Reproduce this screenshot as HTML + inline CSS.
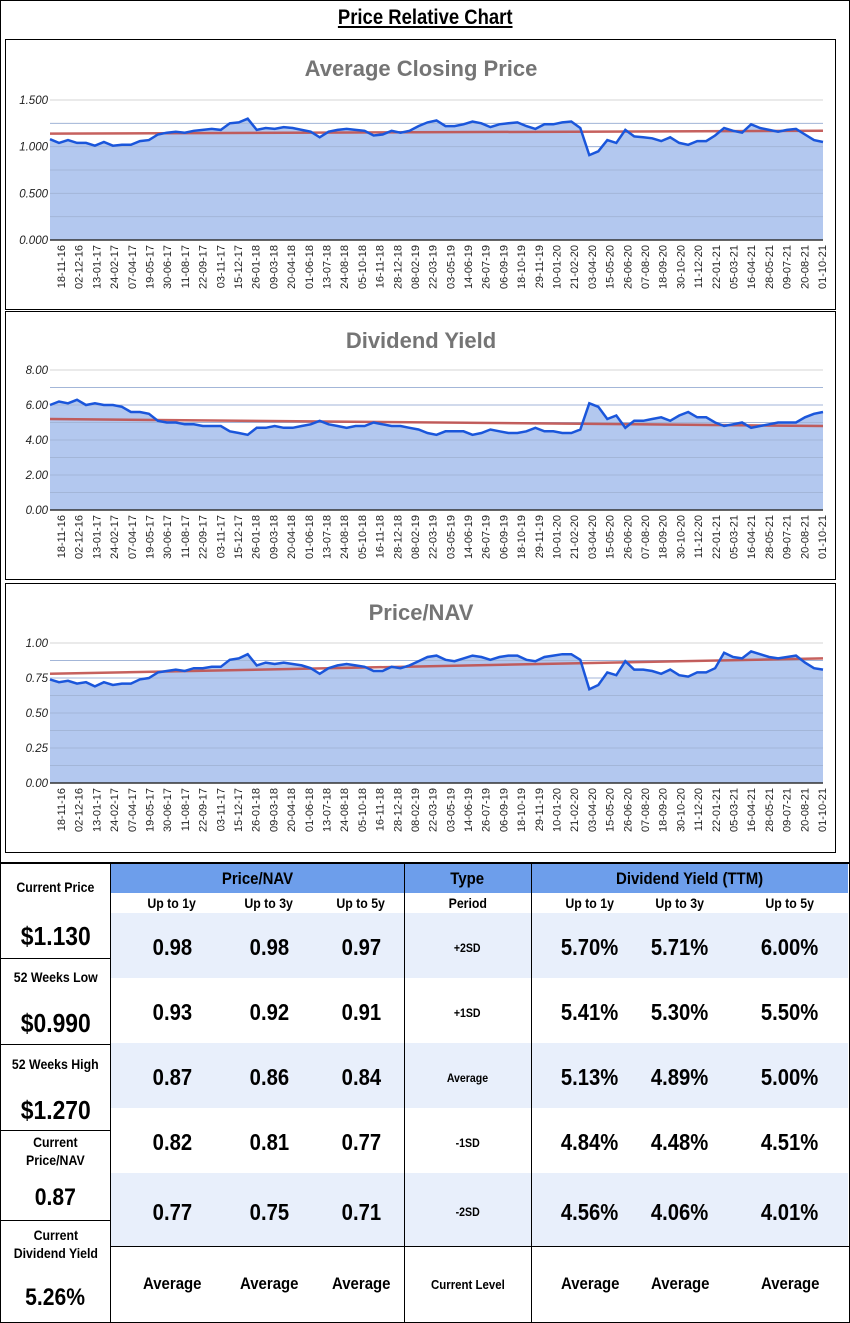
<!DOCTYPE html>
<html><head><meta charset="utf-8">
<style>
body{margin:0;background:#fff;font-family:"Liberation Sans",sans-serif;}
#root{position:relative;width:850px;height:1323px;overflow:hidden;}
.abs{position:absolute;}
.c{position:absolute;text-align:center;font-weight:bold;color:#000;}
.n{display:inline-block;transform:scaleX(0.88);}
</style></head><body>
<div id="root">
<div class="abs" style="left:0;top:0;width:848px;height:1321px;border:1px solid #000;"></div>
<div class="c" style="left:0;top:6px;width:850px;font-size:21px;"><span class="n" style="text-decoration:underline;">Price Relative Chart</span></div>
<svg id="charts" class="abs" style="left:0;top:0" width="850" height="860"></svg>
<div id="table"></div>
</div>
<script>
const dateLabels=["18-11-16","02-12-16","13-01-17","24-02-17","07-04-17","19-05-17","30-06-17","11-08-17","22-09-17","03-11-17","15-12-17","26-01-18","09-03-18","20-04-18","01-06-18","13-07-18","24-08-18","05-10-18","16-11-18","28-12-18","08-02-19","22-03-19","03-05-19","14-06-19","26-07-19","06-09-19","18-10-19","29-11-19","10-01-20","21-02-20","03-04-20","15-05-20","26-06-20","07-08-20","18-09-20","30-10-20","11-12-20","22-01-21","05-03-21","16-04-21","28-05-21","09-07-21","20-08-21","01-10-21"];
const priceValues=[1.08,1.04,1.07,1.04,1.04,1.01,1.05,1.01,1.02,1.02,1.06,1.07,1.13,1.15,1.16,1.15,1.17,1.18,1.19,1.18,1.25,1.26,1.30,1.18,1.20,1.19,1.21,1.20,1.18,1.16,1.10,1.16,1.18,1.19,1.18,1.17,1.12,1.13,1.17,1.15,1.17,1.22,1.26,1.28,1.22,1.22,1.24,1.27,1.25,1.21,1.24,1.25,1.26,1.22,1.19,1.24,1.24,1.26,1.27,1.20,0.91,0.95,1.07,1.04,1.18,1.11,1.10,1.09,1.06,1.10,1.04,1.02,1.06,1.06,1.12,1.20,1.17,1.15,1.24,1.20,1.18,1.16,1.18,1.19,1.13,1.07,1.05];
const priceTrend=[1.14,1.17];
const priceTicks=["0.000","0.500","1.000","1.500"];
const yieldValues=[6.0,6.2,6.1,6.3,6.0,6.1,6.0,6.0,5.9,5.6,5.6,5.5,5.1,5.0,5.0,4.9,4.9,4.8,4.8,4.8,4.5,4.4,4.3,4.7,4.7,4.8,4.7,4.7,4.8,4.9,5.1,4.9,4.8,4.7,4.8,4.8,5.0,4.9,4.8,4.8,4.7,4.6,4.4,4.3,4.5,4.5,4.5,4.3,4.4,4.6,4.5,4.4,4.4,4.5,4.7,4.5,4.5,4.4,4.4,4.6,6.1,5.9,5.2,5.4,4.7,5.1,5.1,5.2,5.3,5.1,5.4,5.6,5.3,5.3,5.0,4.8,4.9,5.0,4.7,4.8,4.9,5.0,5.0,5.0,5.3,5.5,5.6];
const yieldTrend=[5.2,4.8];
const yieldTicks=["0.00","2.00","4.00","6.00","8.00"];
const navValues=[0.74,0.72,0.73,0.71,0.72,0.69,0.72,0.70,0.71,0.71,0.74,0.75,0.79,0.80,0.81,0.80,0.82,0.82,0.83,0.83,0.88,0.89,0.92,0.84,0.86,0.85,0.86,0.85,0.84,0.82,0.78,0.82,0.84,0.85,0.84,0.83,0.80,0.80,0.83,0.82,0.84,0.87,0.90,0.91,0.88,0.87,0.89,0.91,0.90,0.88,0.90,0.91,0.91,0.88,0.87,0.90,0.91,0.92,0.92,0.88,0.67,0.70,0.79,0.77,0.87,0.81,0.81,0.80,0.78,0.81,0.77,0.76,0.79,0.79,0.82,0.93,0.90,0.89,0.94,0.92,0.90,0.89,0.90,0.91,0.86,0.82,0.81];
const navTrend=[0.78,0.89];
const navTicks=["0.00","0.25","0.50","0.75","1.00"];

const NS="http://www.w3.org/2000/svg";
const svg=document.getElementById('charts');
function mk(tag,attrs,parent){const e=document.createElementNS(NS,tag);for(const k in attrs)e.setAttribute(k,attrs[k]);(parent||svg).appendChild(e);return e;}

function drawChart(cfg){
  const g=mk('g',{});
  
  
  const box=mk('rect',{x:5.5,y:cfg.boxTop+0.5,width:830,height:cfg.boxH,fill:'#fff',stroke:'#000','stroke-width':1},g);
  
  
  const t=mk('text',{x:421,y:cfg.boxTop+37,'text-anchor':'middle','font-size':22,'font-weight':'bold',fill:'#757575','font-family':'Liberation Sans, sans-serif'},g);
  t.textContent=cfg.title;
  
  
  const x0=50,x1=823,yb=cfg.yBottom,yt=cfg.yTop,max=cfg.max;
  const yS=v=>yb-(v/max)*(yb-yt);
  const n=cfg.values.length;
  const xS=i=>x0+i*(x1-x0)/(n-1);
  const steps=cfg.ticks.length-1;
  for(let i=0;i<=steps*2;i++){const y=yb-(i/(steps*2))*(yb-yt);
    const l=mk('line',{x1:x0,x2:x1,y1:y,y2:y,stroke:i%2?'#eeeeee':'#d6d6d6','stroke-width':1},g);
    }
  cfg.ticks.forEach((lab,i)=>{const y=yb-(i/steps)*(yb-yt);
    const tx=mk('text',{x:48,y:y+4,'text-anchor':'end','font-size':11.5,'font-style':'italic',fill:'#222','font-family':'Liberation Sans, sans-serif'},g);
    tx.textContent=lab;});
  let d='M'+xS(0)+','+yb;
  cfg.values.forEach((v,i)=>{d+=' L'+xS(i).toFixed(1)+','+yS(v).toFixed(1);});
  d+=' L'+xS(n-1)+','+yb+' Z';
  const area=mk('path',{d:d,fill:'#b3c8ef'},g);
  
  for(let i=1;i<steps*2;i++){const y=yb-(i/(steps*2))*(yb-yt);
    const l=mk('line',{x1:x0,x2:x1,y1:y,y2:y,stroke:'#a3b6d8','stroke-width':1},g);
    }
  const ax=mk('line',{x1:x0,x2:x1,y1:yb,y2:yb,stroke:'#333','stroke-width':1.5},g);
  
  const tl=mk('line',{x1:x0,x2:x1,y1:yS(cfg.trend[0]),y2:yS(cfg.trend[1]),stroke:'#c0504d','stroke-width':2.5,'stroke-opacity':0.9},g);
  
  let p='';cfg.values.forEach((v,i)=>{p+=(i?' L':'M')+xS(i).toFixed(1)+','+yS(v).toFixed(1);});
  const ln=mk('path',{d:p,fill:'none',stroke:'#1a56db','stroke-width':2.5},g);
  
  const m=dateLabels.length;
  dateLabels.forEach((lab,i)=>{const x=61+i*(822-61)/(m-1);
    const tx=mk('text',{x:0,y:0,transform:'translate('+(x+4)+','+(yb+5)+') rotate(-90)','text-anchor':'end','font-size':11,fill:'#222','font-family':'Liberation Sans, sans-serif'},g);
    tx.textContent=lab;});
}
drawChart({name:'avg-closing-price-chart',title:'Average Closing Price',boxTop:39,boxH:270,yTop:100,yBottom:240,max:1.5,values:priceValues,trend:priceTrend,ticks:priceTicks});
drawChart({name:'dividend-yield-chart',title:'Dividend Yield',boxTop:311,boxH:268,yTop:370,yBottom:510,max:8,values:yieldValues,trend:yieldTrend,ticks:yieldTicks});
drawChart({name:'price-nav-chart',title:'Price/NAV',boxTop:583,boxH:269,yTop:643,yBottom:783,max:1,values:navValues,trend:navTrend,ticks:navTicks});

const root=document.getElementById('table');
function box(l,t,w,h,style,name,text){const d=document.createElement('div');d.className='abs';
  d.style.cssText=`left:${l}px;top:${t}px;width:${w}px;height:${h}px;`+style;
  
  
  if(text!==undefined){d.innerHTML='<span class="n">'+text+'</span>';}root.appendChild(d);return d;}
const cen='display:flex;align-items:center;justify-content:center;text-align:center;font-weight:bold;';
box(111,864,737,29,'background:#6d9eeb;','header-band');
const rowsY=[913,978,1043,1108,1173,1247];
rowsY.forEach((y,i)=>{if(i%2===0&&i<5)box(111,y,737,(rowsY[i+1]-y),'background:#e8effb;','row-band');});
box(0,862,850,2,'background:#000;','table-top-border');
box(110,864,1,459,'background:#000;','col-border');
box(404,864,1,459,'background:#000;','col-border');
box(531,864,1,459,'background:#000;','col-border');
box(111,1246,739,1,'background:#000;','row-border');
[958,1044,1130,1220].forEach(y=>box(0,y,111,1,'background:#000;','left-row-border'));
box(111,864,293,29,cen+'font-size:17px;','price-nav-header','Price/NAV');
box(404,864,127,29,cen+'font-size:17px;','type-header','Type');
box(531,864,317,29,cen+'font-size:17px;','dividend-yield-header','Dividend Yield (TTM)');
const subX=[[127,90],[224,90],[316,90],[404,127],[545,90],[635,90],[745,90]];
const subs=['Up to 1y','Up to 3y','Up to 5y','Period','Up to 1y','Up to 3y','Up to 5y'];
subs.forEach((s,i)=>box(subX[i][0],893,subX[i][1],20,cen+'font-size:14px;','sub-header',s));
const navRows=[["0.98","0.98","0.97"],["0.93","0.92","0.91"],["0.87","0.86","0.84"],["0.82","0.81","0.77"],["0.77","0.75","0.71"]];
const typeRows=["+2SD","+1SD","Average","-1SD","-2SD"];
const dyRows=[["5.70%","5.71%","6.00%"],["5.41%","5.30%","5.50%"],["5.13%","4.89%","5.00%"],["4.84%","4.48%","4.51%"],["4.56%","4.06%","4.01%"]];
for(let r=0;r<5;r++){const y=rowsY[r]+2,h=rowsY[r+1]-rowsY[r];
  for(let c=0;c<3;c++)box(subX[c][0],y,subX[c][1],h,cen+'font-size:23px;','nav-value',navRows[r][c]);
  box(404,y,127,h,cen+'font-size:12px;','type-value',typeRows[r]);
  for(let c=0;c<3;c++)box(subX[c+4][0],y,subX[c+4][1],h,cen+'font-size:23px;','yield-value',dyRows[r][c]);}
for(let c=0;c<7;c++)box(subX[c][0],1247,subX[c][1],74,cen+(c==3?'font-size:13px;':'font-size:17px;'),'average-label',c==3?'Current Level':'Average');
const left=[["Current Price",878,14],["$1.130",920,26],["52 Weeks Low",968,14],["$0.990",1007,26],["52 Weeks High",1055,14],["$1.270",1094,26],["Current<br>Price/NAV",1133,14],["0.87",1182,24],["Current<br>Dividend Yield",1226,14],["5.26%",1282,24]];
left.forEach(a=>box(0,a[1],111,a[2]*1.6,'text-align:center;font-weight:bold;line-height:1.3;font-size:'+a[2]+'px;','left-stat',a[0]));
</script>
</body></html>
